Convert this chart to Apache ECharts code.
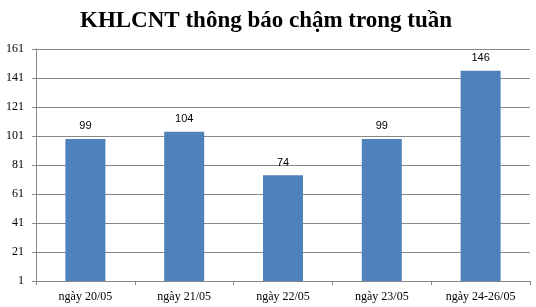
<!DOCTYPE html>
<html><head><meta charset="utf-8">
<script src="https://cdn.jsdelivr.net/npm/echarts@6/dist/echarts.min.js"></script>
<style>html,body{margin:0;padding:0;background:#fff}#c{width:536px;height:307px}</style>
</head><body><div id="c"></div>
<script>
const categories = ['ngày 20/05', 'ngày 21/05', 'ngày 22/05', 'ngày 23/05', 'ngày 24-26/05'];
const values = [99, 104, 74, 99, 146];
const yMin = 1, yMax = 161, yStep = 20;

const chart = echarts.init(document.getElementById('c'), null, {renderer: 'canvas'});
chart.setOption({
  animation: false,
  backgroundColor: '#fff',
  title: {
    text: 'KHLCNT thông báo chậm trong tuần',
    left: 75, top: 5,
    textStyle: {fontFamily: 'Liberation Serif', fontWeight: 'bold', fontSize: 23, color: '#000'}
  },
  grid: {left: 36, right: 6, top: 49, bottom: 26, containLabel: false},
  xAxis: {
    type: 'category', data: categories,
    axisLine: {lineStyle: {color: '#888', width: 1}},
    axisTick: {show: true, length: 4, lineStyle: {color: '#888'}},
    axisLabel: {fontFamily: 'Liberation Serif', fontSize: 12, color: '#000', margin: 10, interval: 0}
  },
  yAxis: {
    type: 'value', min: yMin, max: yMax, interval: yStep,
    axisLine: {show: true, lineStyle: {color: '#888', width: 1}},
    axisTick: {show: true, length: 4, lineStyle: {color: '#888'}},
    axisLabel: {fontFamily: 'Liberation Serif', fontSize: 12, color: '#000', margin: 12},
    splitLine: {lineStyle: {color: '#888', width: 1}}
  },
  series: [{
    type: 'bar', data: values, barWidth: 40,
    itemStyle: {color: '#4F81BD'},
    label: {show: true, position: 'top', distance: 7, fontFamily: 'Liberation Sans', fontSize: 11, color: '#000'}
  }]
});
</script></body></html>
